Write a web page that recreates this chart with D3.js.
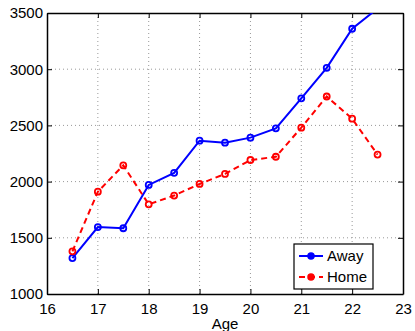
<!DOCTYPE html>
<html>
<head>
<meta charset="utf-8">
<script src="https://cdn.jsdelivr.net/npm/d3@7"></script>
<style>
  body { margin: 0; background: #fff; }
  text { font-family: "Liberation Sans", Arial, sans-serif; fill: #000; }
</style>
</head>
<body>
<script>
var width = 415,
    height = 331;

var ages = [16.5, 17, 17.5, 18, 18.5, 19, 19.5, 20, 20.5, 21, 21.5, 22, 22.5];
var away = [1320, 1595, 1585, 1970, 2078, 2364, 2346, 2391, 2474, 2741, 3012, 3360, 3540];
var home = [1380, 1910, 2145, 1798, 1876, 1979, 2068, 2192, 2221, 2480, 2757, 2560, 2240];
var xTicks = [16, 17, 18, 19, 20, 21, 22, 23];
var yTicks = [1000, 1500, 2000, 2500, 3000, 3500];

var margin = {left: 47, right: 12, top: 13, bottom: 37};
var w = width - margin.left - margin.right,
    h = height - margin.top - margin.bottom;

var svg = d3.select('body')
    .append('svg')
    .attr('width', width)
    .attr('height', height)

var g = svg.append('g').attr('transform', 'translate(' + margin.left + ',' + margin.top + ')');

var x = d3.scaleLinear().domain([16, 23]).range([0, w]);
var y = d3.scaleLinear().domain([1000, 3500]).range([h, 0]);

// grid
g.selectAll('.gx').data(xTicks.slice(1, -1)).enter().append('line')
  .attr('x1', d => x(d)).attr('x2', d => x(d))
  .attr('y1', 0).attr('y2', h)
  .attr('stroke', '#999').attr('stroke-width', 1).attr('stroke-dasharray', '1,3');
g.selectAll('.gy').data(yTicks.slice(1, -1)).enter().append('line')
  .attr('x1', 0).attr('x2', w)
  .attr('y1', d => y(d)).attr('y2', d => y(d))
  .attr('stroke', '#999').attr('stroke-width', 1).attr('stroke-dasharray', '1,3');

// axes
var fmt = d3.format('d');
g.append('g').attr('transform', 'translate(0,' + h + ')')
  .call(d3.axisBottom(x).tickValues(xTicks).tickFormat(fmt).tickSizeInner(-5).tickSizeOuter(0).tickPadding(9));
g.append('g')
  .call(d3.axisLeft(y).tickValues(yTicks).tickFormat(fmt).tickSizeInner(-5).tickSizeOuter(0).tickPadding(4));
g.append('g')
  .call(d3.axisTop(x).tickValues(xTicks).tickFormat('').tickSizeInner(-5).tickSizeOuter(0));
g.append('g').attr('transform', 'translate(' + w + ',0)')
  .call(d3.axisRight(y).tickValues(yTicks).tickFormat('').tickSizeInner(-5).tickSizeOuter(0));
g.selectAll('.domain').attr('stroke', '#000').attr('stroke-width', 1.5);
g.selectAll('.tick line').attr('stroke', '#000');
g.selectAll('.tick text').style('font-size', '15px');

// clip
svg.append('defs').append('clipPath').attr('id', 'clip')
  .append('rect').attr('width', w).attr('height', h);

var line = d3.line().x(d => x(d[0])).y(d => y(d[1]));

var series = [
  {name: 'Away', values: away, color: '#0000ff', dash: null},
  {name: 'Home', values: home, color: '#ff0000', dash: '6,4'}
];

var plot = g.append('g').attr('clip-path', 'url(#clip)');
series.forEach(function(s) {
  var pts = ages.map((a, i) => [a, s.values[i]]);
  plot.append('path').datum(pts)
    .attr('d', line)
    .attr('fill', 'none')
    .attr('stroke', s.color)
    .attr('stroke-width', 2)
    .attr('stroke-dasharray', s.dash);
  plot.selectAll(null).data(pts).enter().append('circle')
    .attr('cx', d => x(d[0])).attr('cy', d => y(d[1]))
    .attr('r', 3)
    .attr('fill', 'none')
    .attr('stroke', s.color)
    .attr('stroke-width', 1.8);
});

// x label
g.append('text')
  .attr('x', w / 2).attr('y', h + 35)
  .attr('text-anchor', 'middle')
  .style('font-size', '15px')
  .text('Age');

// legend
var lg = svg.append('g').attr('transform', 'translate(294,244)');
lg.append('rect').attr('width', 79).attr('height', 45)
  .attr('fill', '#fff').attr('stroke', '#000').attr('stroke-width', 1.2);
series.forEach(function(s, i) {
  var yy = 12 + i * 21;
  lg.append('line').attr('x1', 5).attr('x2', 29).attr('y1', yy).attr('y2', yy)
    .attr('stroke', s.color).attr('stroke-width', 2).attr('stroke-dasharray', s.dash);
  lg.append('circle').attr('cx', 17).attr('cy', yy).attr('r', 3)
    .attr('fill', s.color).attr('stroke', s.color).attr('stroke-width', 1.5);
  lg.append('text').attr('x', 33).attr('y', yy + 5)
    .style('font-size', '15px').text(s.name);
});
</script>
</body>
</html>
